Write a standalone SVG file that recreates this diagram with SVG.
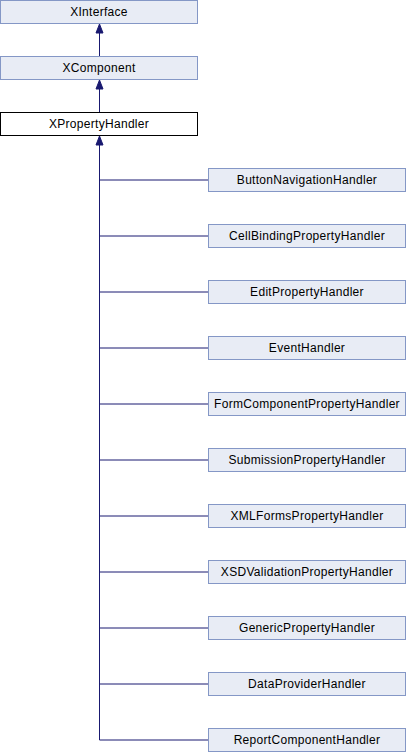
<svg xmlns="http://www.w3.org/2000/svg" width="406" height="752" viewBox="0 0 406 752">
<style>
.n rect{fill:#e8ecf5;stroke:#8497c6;stroke-width:1}
.n.cur rect{fill:#ffffff;stroke:#000000}
.n text{font-family:"Liberation Sans",Arial,sans-serif;font-size:12px;letter-spacing:0.3px;fill:#000;text-anchor:middle}
.e{stroke:#191970;stroke-width:1;fill:none}
.ah{fill:#191970;stroke:#191970}
</style>
<rect width="406" height="752" fill="#fff"/>
<g id="connectors">
<line class="e" x1="99.5" y1="33" x2="99.5" y2="57"/>
<polygon class="ah" points="99.5,24 96,33 103,33"/>
<line class="e" x1="99.5" y1="89" x2="99.5" y2="113"/>
<polygon class="ah" points="99.5,80 96,89 103,89"/>
<line class="e" x1="99.5" y1="145" x2="99.5" y2="740"/>
<polygon class="ah" points="99.5,136 96,145 103,145"/>
<line class="e" x1="99.5" y1="180" x2="208" y2="180"/>
<line class="e" x1="99.5" y1="236" x2="208" y2="236"/>
<line class="e" x1="99.5" y1="292" x2="208" y2="292"/>
<line class="e" x1="99.5" y1="348" x2="208" y2="348"/>
<line class="e" x1="99.5" y1="404" x2="208" y2="404"/>
<line class="e" x1="99.5" y1="460" x2="208" y2="460"/>
<line class="e" x1="99.5" y1="516" x2="208" y2="516"/>
<line class="e" x1="99.5" y1="572" x2="208" y2="572"/>
<line class="e" x1="99.5" y1="628" x2="208" y2="628"/>
<line class="e" x1="99.5" y1="684" x2="208" y2="684"/>
<line class="e" x1="99.5" y1="740" x2="208" y2="740"/>
</g>
<g id="XInterface" class="n"><rect x="0.5" y="0.5" width="197" height="23"/><text x="99" y="16">XInterface</text></g>
<g id="XComponent" class="n"><rect x="0.5" y="56.5" width="197" height="23"/><text x="99" y="72">XComponent</text></g>
<g id="XPropertyHandler" class="n cur"><rect x="0.5" y="112.5" width="197" height="23"/><text x="99" y="128">XPropertyHandler</text></g>
<g id="ButtonNavigationHandler" class="n"><rect x="208.5" y="168.5" width="197" height="23"/><text x="307" y="184">ButtonNavigationHandler</text></g>
<g id="CellBindingPropertyHandler" class="n"><rect x="208.5" y="224.5" width="197" height="23"/><text x="307" y="240">CellBindingPropertyHandler</text></g>
<g id="EditPropertyHandler" class="n"><rect x="208.5" y="280.5" width="197" height="23"/><text x="307" y="296">EditPropertyHandler</text></g>
<g id="EventHandler" class="n"><rect x="208.5" y="336.5" width="197" height="23"/><text x="307" y="352">EventHandler</text></g>
<g id="FormComponentPropertyHandler" class="n"><rect x="208.5" y="392.5" width="197" height="23"/><text x="307" y="408">FormComponentPropertyHandler</text></g>
<g id="SubmissionPropertyHandler" class="n"><rect x="208.5" y="448.5" width="197" height="23"/><text x="307" y="464">SubmissionPropertyHandler</text></g>
<g id="XMLFormsPropertyHandler" class="n"><rect x="208.5" y="504.5" width="197" height="23"/><text x="307" y="520">XMLFormsPropertyHandler</text></g>
<g id="XSDValidationPropertyHandler" class="n"><rect x="208.5" y="560.5" width="197" height="23"/><text x="307" y="576">XSDValidationPropertyHandler</text></g>
<g id="GenericPropertyHandler" class="n"><rect x="208.5" y="616.5" width="197" height="23"/><text x="307" y="632">GenericPropertyHandler</text></g>
<g id="DataProviderHandler" class="n"><rect x="208.5" y="672.5" width="197" height="23"/><text x="307" y="688">DataProviderHandler</text></g>
<g id="ReportComponentHandler" class="n"><rect x="208.5" y="728.5" width="197" height="23"/><text x="307" y="744">ReportComponentHandler</text></g>
</svg>
